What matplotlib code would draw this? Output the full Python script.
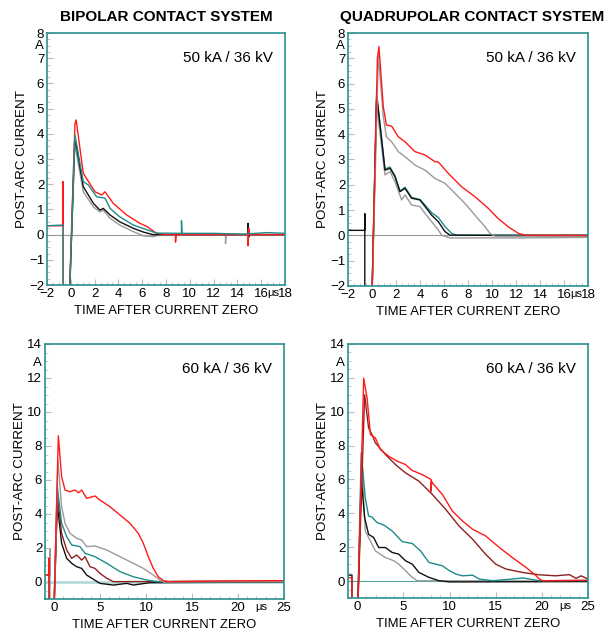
import matplotlib
matplotlib.use("Agg")
import matplotlib.pyplot as plt
from matplotlib.ticker import MultipleLocator

plt.rcParams["font.family"] = ["Liberation Sans", "DejaVu Sans"]

# ---- data: (time in us, current in A) ----
# Bipolar, 50 kA / 36 kV
bi50_red = [(-2, 0.35), (-0.65, 0.35), (-0.65, 2.1), (-0.65, -3), (-0.15, -3), (0.35, 4.4), (0.45, 4.55),
            (1.05, 2.43), (2.03, 1.7), (2.6, 1.57), (2.87, 1.7), (3.57, 1.24), (4.69, 0.78),
            (5.8, 0.45), (6.4, 0.32), (7.2, 0.05), (8.0, 0.0), (8.8, 0.0), (8.8, -0.3), (8.85, 0.0),
            (14.9, 0.0), (14.9, -0.45), (14.95, 0.25), (15.0, 0.0), (18, 0.0)]
bi50_teal = [(-2, 0.35), (-0.65, 0.38), (-0.65, -3), (-0.15, -3), (0.35, 3.95), (1.05, 2.1), (1.47, 1.97),
             (2.17, 1.5), (2.87, 1.45), (3.3, 1.04), (4.1, 0.71), (5.25, 0.38), (6.4, 0.19),
             (7.2, 0.06), (9.3, 0.05), (9.3, 0.55), (9.35, 0.05), (12.0, 0.05), (14.5, 0.02),
             (16.5, 0.08), (18, 0.05)]
bi50_black = [(-0.15, -3), (0.35, 3.85), (1.05, 1.9), (1.9, 1.24), (2.45, 0.97), (2.73, 1.04),
              (3.3, 0.78), (4.1, 0.51), (5.25, 0.25), (6.1, 0.1), (6.9, 0.0), (14.9, 0.0),
              (14.9, 0.45), (14.95, -0.1), (15.0, 0.0), (18, 0.0)]
bi50_gray = [(-0.15, -3), (0.3, 3.7), (1.05, 1.7), (1.9, 1.1), (2.45, 0.9), (2.73, 0.97), (3.3, 0.65),
             (4.1, 0.38), (5.25, 0.12), (6.1, -0.05), (6.9, -0.08), (7.7, 0.0), (13.0, 0.0),
             (13.0, -0.35), (13.05, 0.0), (18, 0.0)]

# Quadrupolar, 50 kA / 36 kV
qu50_red = [(-0.03, -3), (0.45, 7.0), (0.58, 7.46), (0.94, 5.09), (1.2, 4.36), (1.64, 4.32), (2.19, 3.9),
            (2.75, 3.7), (3.58, 3.31), (4.42, 3.18), (5.25, 2.91), (5.53, 2.9), (6.36, 2.45),
            (7.47, 1.92), (8.58, 1.53), (9.69, 1.07), (10.5, 0.67), (11.36, 0.34), (12.2, 0.08),
            (12.75, 0.01), (18, 0.0)]
qu50_gray_hi = [(-0.03, -3), (0.53, 7.13), (0.94, 4.69), (1.2, 3.9), (1.64, 3.7), (2.19, 3.31), (2.75, 3.11),
                (3.58, 2.78), (4.42, 2.58), (5.25, 2.25), (6.08, 2.06), (6.92, 1.66), (7.75, 1.26),
                (8.58, 0.8), (9.42, 0.34), (9.83, 0.08), (10.25, -0.03), (18, -0.03)]
qu50_teal = [(-0.03, -3), (0.39, 5.5), (0.81, 3.77), (1.08, 2.62), (1.5, 2.7), (1.92, 2.35), (2.33, 1.75),
             (2.75, 1.9), (3.3, 1.5), (4.0, 1.42), (4.42, 1.2), (4.97, 0.9), (5.53, 0.7), (6.08, 0.35),
             (6.64, 0.08), (7.05, 0.01), (18, 0.02)]
qu50_black = [(-2, 0.2), (-0.6, 0.2), (-0.6, 0.85), (-0.6, -3), (-0.03, -3), (0.39, 5.58), (0.81, 3.77),
              (1.08, 2.58), (1.5, 2.65), (1.92, 2.32), (2.33, 1.73), (2.75, 1.86), (3.3, 1.47),
              (4.0, 1.4), (4.42, 1.14), (4.97, 0.8), (5.53, 0.54), (6.08, 0.15), (6.5, 0.01), (18, -0.02)]
qu50_gray_lo = [(-0.03, -3), (0.35, 5.3), (1.08, 2.39), (1.5, 2.52), (1.92, 2.12), (2.47, 1.4), (2.75, 1.6),
                (3.3, 1.2), (4.0, 1.14), (4.42, 0.87), (4.97, 0.54), (5.53, 0.21), (5.8, 0.01),
                (6.5, -0.1), (12.0, -0.1), (18, -0.08)]

# Bipolar, 60 kA / 36 kV
bi60_red = [(-1, 0.4), (-0.55, 0.4), (-0.55, 1.4), (-0.55, -2), (-0.04, -2), (0.45, 8.6), (0.81, 6.2),
            (1.18, 5.41), (1.72, 5.31), (2.26, 5.41), (2.63, 5.25), (2.99, 5.41), (3.53, 4.92),
            (4.44, 5.06), (4.98, 4.82), (6.07, 4.43), (7.16, 3.94), (8.25, 3.45), (9.15, 2.86),
            (9.7, 2.27), (10.24, 1.49), (10.78, 0.8), (11.33, 0.31), (11.87, 0.08), (12.4, 0.02),
            (18, 0.06), (25, 0.08)]
bi60_gray = [(-1, 0.4), (-0.46, 0.4), (-0.46, 1.9), (-0.46, -2), (-0.04, -2), (0.4, 7.18), (0.81, 4.43),
             (1.18, 3.45), (1.72, 2.86), (2.44, 2.57), (2.99, 2.47), (3.53, 2.08), (4.44, 2.12),
             (5.71, 1.88), (7.16, 1.49), (8.6, 1.1), (9.7, 0.8), (10.78, 0.41), (11.5, 0.12),
             (12.2, -0.08), (12.6, 0.0), (25, 0.02)]
bi60_teal = [(-0.04, -2), (0.33, 5.65), (0.81, 3.45), (1.36, 2.67), (1.9, 2.18), (2.81, 2.08), (3.35, 1.69),
             (3.9, 1.59), (4.44, 1.49), (5.71, 1.1), (7.16, 0.61), (8.6, 0.31), (10.06, 0.12),
             (11.15, 0.02), (25, 0.03)]
bi60_maroon = [(-0.04, -2), (0.36, 5.06), (0.81, 2.86), (1.36, 1.88), (1.9, 1.39), (2.44, 1.59), (2.99, 1.29),
               (3.35, 1.49), (3.9, 0.9), (4.44, 0.8), (4.98, 0.51), (5.71, 0.22), (6.43, 0.02),
               (25, 0.05)]
bi60_black = [(-1, 0.4), (-0.55, 0.4), (-0.55, -2), (-0.04, -2), (0.33, 4.63), (0.81, 2.27), (1.36, 1.39),
              (1.9, 1.1), (2.44, 0.9), (2.99, 0.8), (3.53, 0.41), (4.26, 0.16), (4.98, -0.08),
              (6.43, -0.18), (7.9, -0.08), (8.6, -0.18), (10.4, -0.04), (25, 0.0)]

# Quadrupolar, 60 kA / 36 kV
qu60_red = [(-1, 0.2), (-0.57, 0.2), (-0.57, -2), (0.04, -2), (0.7, 11.98), (1.07, 10.8), (1.43, 8.65),
            (1.97, 8.45), (2.51, 7.76), (3.42, 7.37), (4.33, 7.08), (5.23, 6.88), (5.96, 6.53),
            (7.04, 6.29), (8.0, 6.0), (8.0, 5.3), (8.05, 5.9), (8.13, 5.8), (9.22, 5.12), (10.3, 4.14),
            (11.4, 3.55), (12.5, 3.06), (13.9, 2.67), (15.4, 1.98), (16.8, 1.39), (18.3, 0.8),
            (19.4, 0.31), (19.7, 0.12), (20.1, 0.02), (25, 0.05)]
qu60_maroon = [(0.04, -2), (0.8, 11.0), (1.23, 9.04), (1.6, 8.65), (1.97, 8.16), (3.06, 7.47), (4.14, 6.88),
               (5.23, 6.39), (6.68, 5.9), (8.13, 5.12), (9.58, 4.24), (11.03, 3.25), (12.5, 2.47),
               (13.9, 1.59), (15.0, 1.0), (16.1, 0.71), (17.9, 0.51), (19.7, 0.37), (21.5, 0.31),
               (22.98, 0.38), (23.7, 0.16), (24.25, 0.31), (25, 0.12)]
qu60_teal = [(0.04, -2), (0.43, 7.57), (0.87, 4.92), (1.23, 3.84), (1.6, 3.78), (2.15, 3.45), (2.88, 3.31),
             (3.78, 2.96), (4.87, 2.33), (5.96, 2.22), (6.86, 1.78), (7.77, 1.1), (9.22, 0.9),
             (10.0, 0.61), (10.7, 0.41), (11.4, 0.31), (12.5, 0.35), (13.2, 0.12), (14.7, 0.02),
             (18.0, 0.18), (19.7, 0.02), (25, 0.03)]
qu60_gray = [(0.04, -2), (0.5, 7.0), (0.87, 2.96), (1.23, 2.57), (1.97, 1.78), (3.05, 1.39), (3.96, 1.2),
             (4.5, 1.0), (5.23, 0.61), (5.96, 0.22), (6.5, 0.02), (25, 0.0)]
qu60_black = [(-1, 0.35), (-0.57, 0.35), (-0.57, -2), (0.04, -2), (0.43, 6.1), (0.8, 3.75), (1.23, 2.76),
              (1.78, 2.57), (2.32, 1.98), (3.05, 1.98), (3.78, 1.69), (4.5, 1.59), (5.23, 1.2),
              (5.96, 1.0), (6.68, 0.51), (7.77, 0.22), (8.86, 0.02), (10.0, -0.05), (25, -0.03)]

RED = "#ff1a1a"
TEAL = "#1f8b8b"
BLACK = "#111111"
GRAY = "#9a9a9a"
MAROON = "#8e1f1f"
FRAME = "#2a9090"
TICKFS = 9.5

fig = plt.figure(figsize=(6.15, 6.35), dpi=100)
W, H = 615, 635


def make_axes(left, top, right, bottom):
    return fig.add_axes([left / W, 1 - bottom / H, (right - left) / W, (bottom - top) / H])


def style(ax, xlim, ylim, xmaj, xminor, ymaj, yminor, unit_y, unit_x, case):
    ax.set_xlim(*xlim)
    ax.set_ylim(*ylim)
    for s in ax.spines.values():
        s.set_color(FRAME)
        s.set_linewidth(1.2)
    ax.xaxis.set_major_locator(MultipleLocator(xmaj))
    ax.xaxis.set_minor_locator(MultipleLocator(xminor))
    ax.yaxis.set_major_locator(MultipleLocator(ymaj))
    ax.yaxis.set_minor_locator(MultipleLocator(yminor))
    ax.tick_params(which="both", direction="in", color="#bbbbbb", labelsize=TICKFS, pad=2)
    ax.tick_params(which="major", length=4)
    ax.tick_params(which="minor", length=2)
    ax.set_xlabel("TIME AFTER CURRENT ZERO", fontsize=9.4, labelpad=4)
    ax.set_ylabel("POST-ARC CURRENT", fontsize=9.6, labelpad=1)
    # unit labels sitting among the tick labels
    ax.annotate("A", xy=(0, unit_y), xycoords=("axes fraction", "data"), xytext=(-2.5, 0),
                textcoords="offset points", ha="right", va="center", fontsize=TICKFS)
    ax.annotate("\u03bcs", xy=(unit_x, 0), xycoords=("data", "axes fraction"), xytext=(0, -2.5),
                textcoords="offset points", ha="center", va="top", fontsize=8)
    ax.text(0.95, 0.9, case, transform=ax.transAxes, ha="right", va="center", fontsize=11)


def trace(ax, pts, color, lw=1.0):
    t = [p[0] for p in pts]
    i = [p[1] for p in pts]
    ax.plot(t, i, color=color, lw=lw)


# top left
ax1 = make_axes(47, 33, 285, 285)
ax1.axhline(0, color="#999999", lw=0.8)
trace(ax1, bi50_gray, GRAY)
trace(ax1, bi50_black, BLACK)
trace(ax1, bi50_red, RED)
trace(ax1, bi50_teal, TEAL)
style(ax1, (-2, 18), (-2, 8), 2, 0.5, 1, 0.25, 7.5, 17.0, "50 kA / 36 kV")

# top right
ax2 = make_axes(348, 33, 588, 286)
ax2.axhline(0, color="#999999", lw=0.8)
trace(ax2, qu50_gray_lo, GRAY)
trace(ax2, qu50_teal, TEAL)
trace(ax2, qu50_black, BLACK)
trace(ax2, qu50_gray_hi, GRAY)
trace(ax2, qu50_red, RED)
style(ax2, (-2, 18), (-2, 8), 2, 0.5, 1, 0.25, 7.5, 17.0, "50 kA / 36 kV")

# bottom left
ax3 = make_axes(45, 344, 284, 599)
ax3.axhline(0, color="#b5dada", lw=2.0)
trace(ax3, bi60_black, BLACK)
trace(ax3, bi60_maroon, MAROON)
trace(ax3, bi60_teal, TEAL)
trace(ax3, bi60_gray, GRAY)
trace(ax3, bi60_red, RED)
style(ax3, (-1, 25), (-1, 14), 5, 1, 2, 0.5, 12.9, 22.5, "60 kA / 36 kV")

# bottom right
ax4 = make_axes(348, 344, 588, 598)
ax4.axhline(0, color="#4fa8a8", lw=0.8)
trace(ax4, qu60_gray, GRAY)
trace(ax4, qu60_black, BLACK)
trace(ax4, qu60_teal, TEAL)
trace(ax4, qu60_maroon, MAROON)
trace(ax4, qu60_red, RED)
style(ax4, (-1, 25), (-1, 14), 5, 1, 2, 0.5, 12.9, 22.5, "60 kA / 36 kV")

fig.text(166 / W, 1 - 17 / H, "BIPOLAR CONTACT SYSTEM", ha="center", va="center",
         fontsize=11, fontweight="bold")
fig.text(472 / W, 1 - 17 / H, "QUADRUPOLAR CONTACT SYSTEM", ha="center", va="center",
         fontsize=11, fontweight="bold")

fig.savefig("out.png", dpi=100)
